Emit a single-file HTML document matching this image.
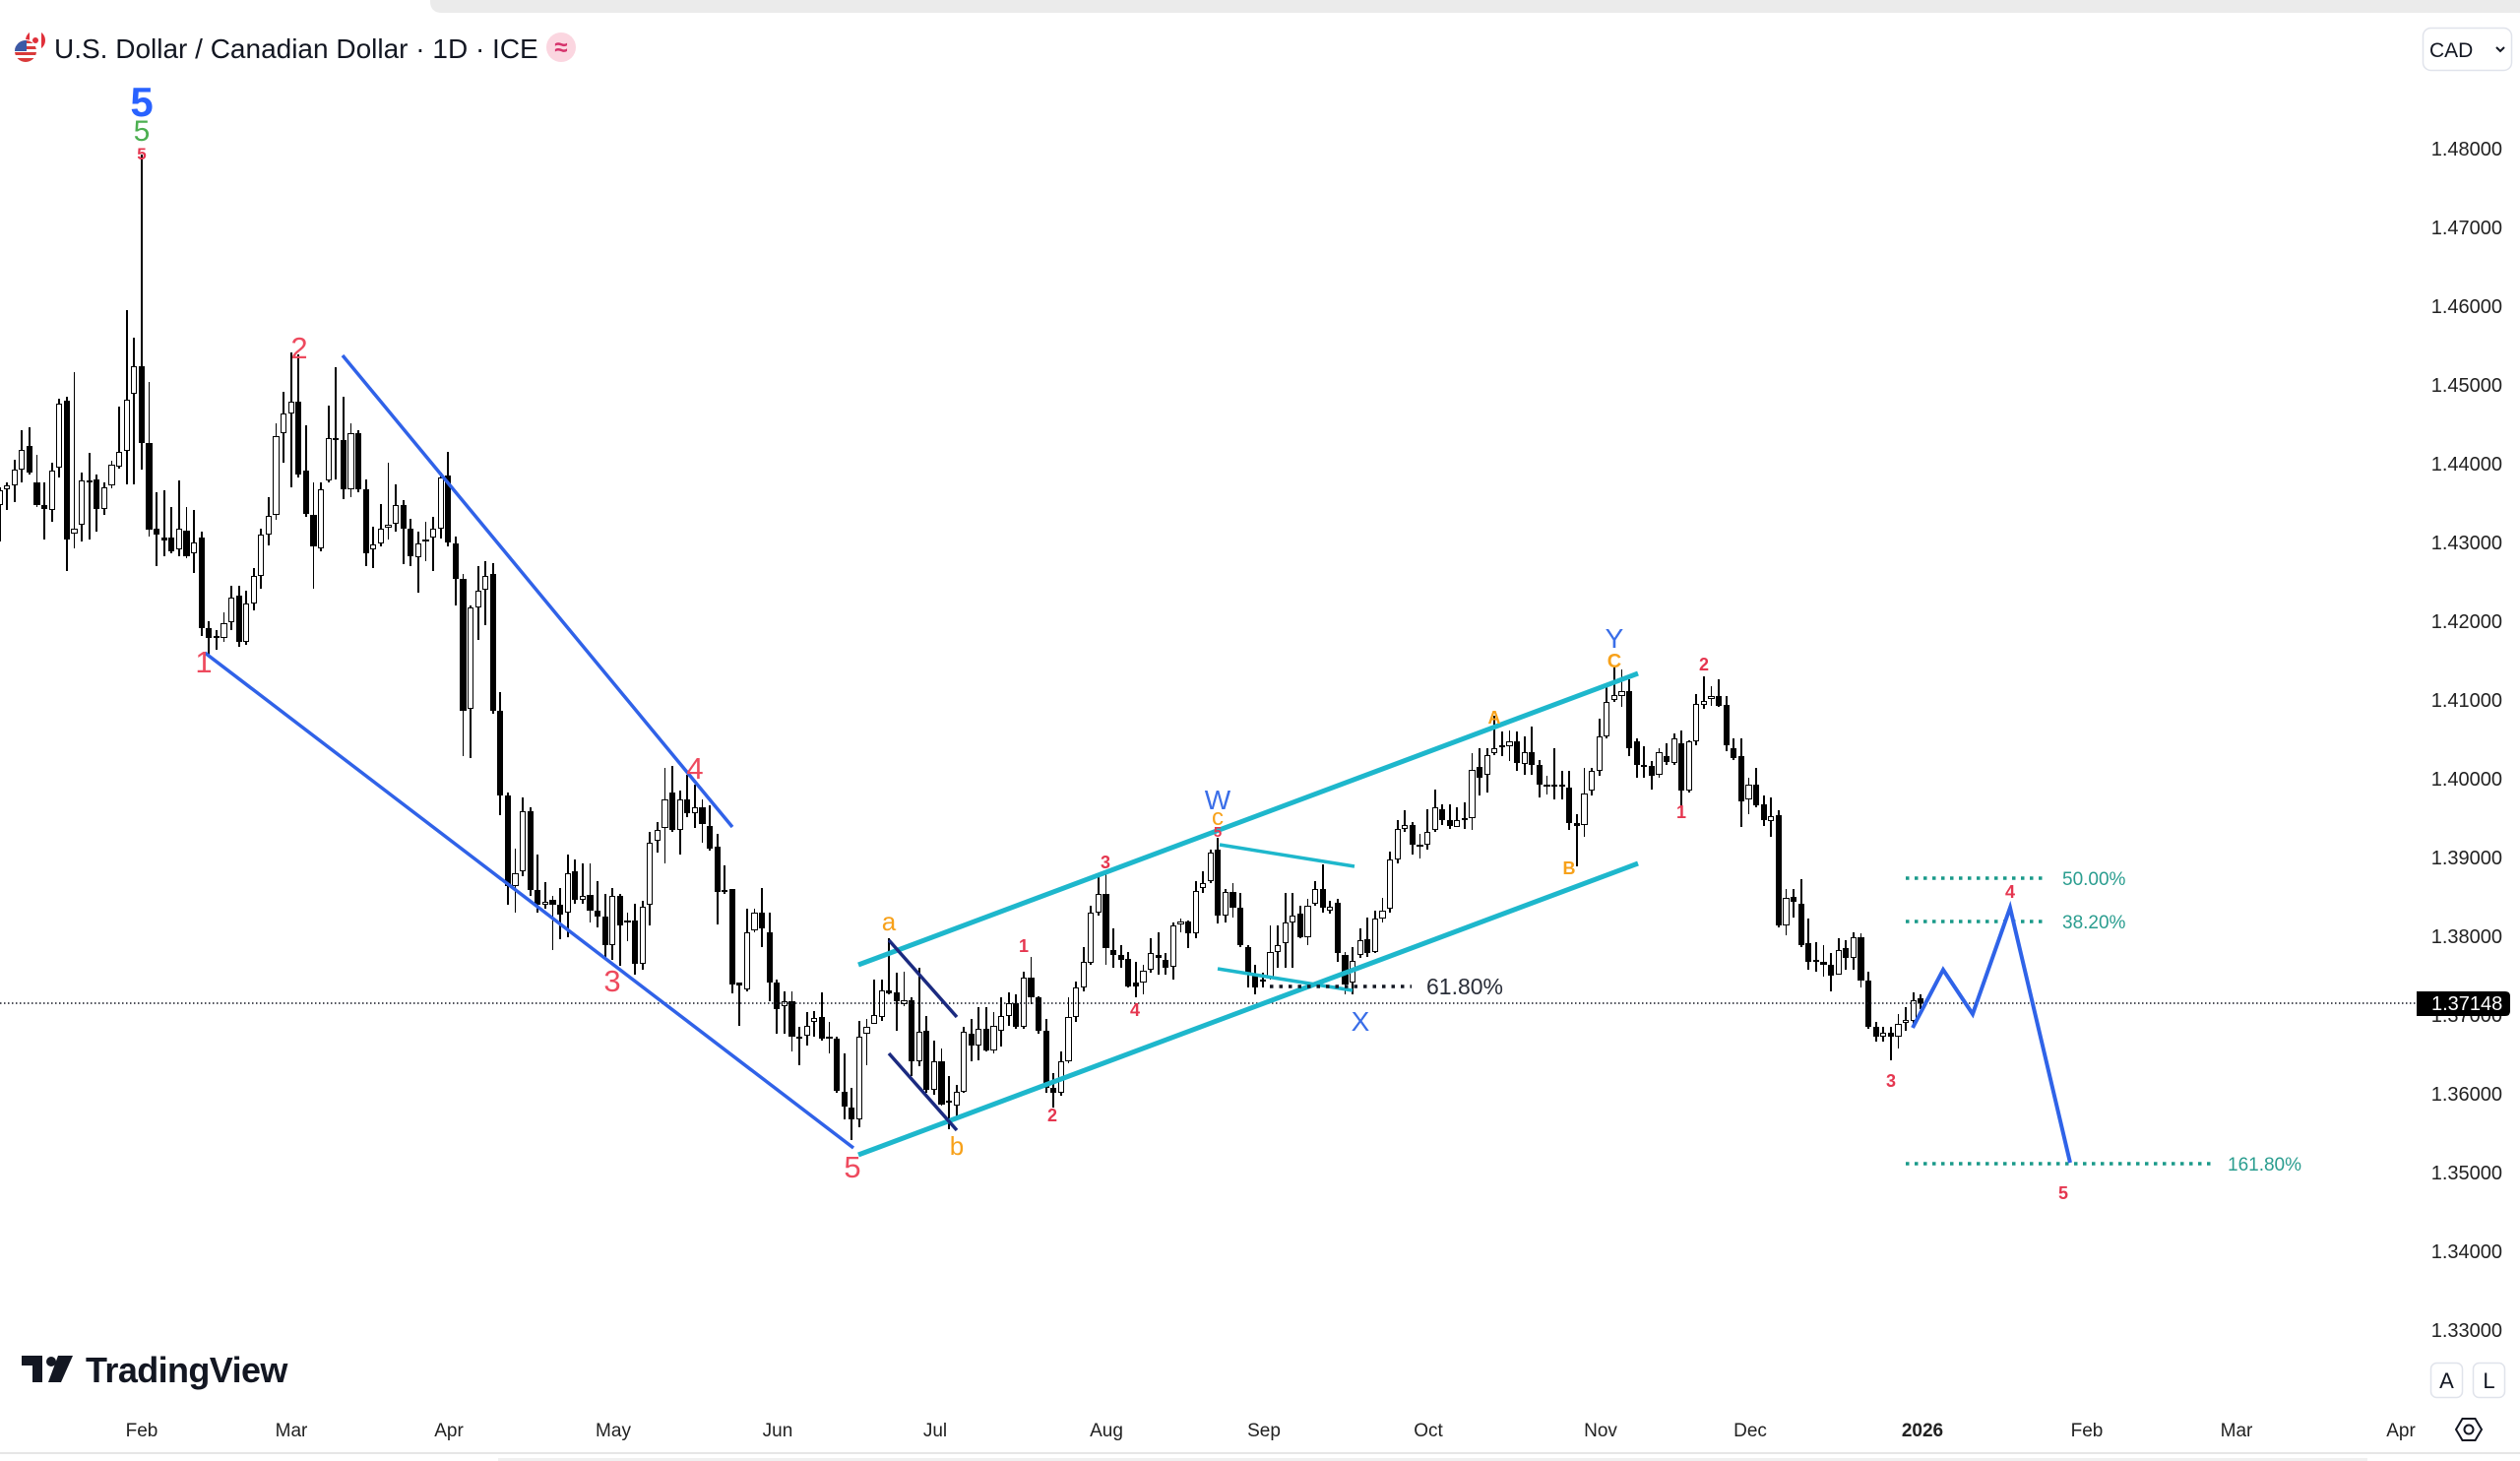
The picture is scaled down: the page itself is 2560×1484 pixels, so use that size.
<!DOCTYPE html>
<html><head><meta charset="utf-8">
<style>
html,body{margin:0;padding:0;background:#fff;}
body{width:2560px;height:1484px;position:relative;overflow:hidden;font-family:"Liberation Sans",sans-serif;}
#c{position:absolute;left:-4.2px;top:0;display:flex;height:1484px;z-index:1}
#c i{position:relative;flex:0 0 7.6px;width:7.6px;height:1484px;display:block}
#c i::before{content:"";position:absolute;left:2.9px;width:1.8px;top:calc(var(--h)*1px);height:calc((var(--l) - var(--h))*1px);background:#000}
#c i::after{content:"";position:absolute;left:0.7px;width:6.2px;box-sizing:border-box;top:calc(var(--t)*1px);height:calc((var(--u) - var(--t))*1px);min-height:2px;background:#000}
#c i.w::after{background:#fff;border:1.8px solid #000}
svg{position:absolute;left:0;top:0;z-index:2}
</style></head><body>
<div id="c">
<i class="w" style="--t:498;--u:513;--h:495;--l:550"></i>
<i class="w" style="--t:493;--u:497;--h:490;--l:518"></i>
<i class="w" style="--t:477;--u:493;--h:467;--l:510"></i>
<i class="w" style="--t:457;--u:477;--h:437;--l:490"></i>
<i class="b" style="--t:453;--u:480;--h:434;--l:482"></i>
<i class="b" style="--t:490;--u:513;--h:462;--l:515"></i>
<i class="b" style="--t:513;--u:517;--h:490;--l:548"></i>
<i class="w" style="--t:478;--u:518;--h:470;--l:530"></i>
<i class="w" style="--t:410;--u:475;--h:405;--l:485"></i>
<i class="b" style="--t:407;--u:548;--h:403;--l:580"></i>
<i class="w" style="--t:537;--u:542;--h:378;--l:557"></i>
<i class="w" style="--t:488;--u:533;--h:480;--l:550"></i>
<i class="b" style="--t:488;--u:490;--h:460;--l:548"></i>
<i class="b" style="--t:487;--u:517;--h:482;--l:540"></i>
<i class="w" style="--t:495;--u:517;--h:490;--l:523"></i>
<i class="w" style="--t:472;--u:493;--h:468;--l:496"></i>
<i class="w" style="--t:459;--u:474;--h:413;--l:476"></i>
<i class="w" style="--t:406;--u:458;--h:315;--l:492"></i>
<i class="w" style="--t:372;--u:400;--h:343;--l:492"></i>
<i class="b" style="--t:372;--u:450;--h:157;--l:477"></i>
<i class="b" style="--t:450;--u:538;--h:388;--l:545"></i>
<i class="b" style="--t:537;--u:543;--h:500;--l:575"></i>
<i class="b" style="--t:546;--u:549;--h:498;--l:565"></i>
<i class="b" style="--t:546;--u:560;--h:515;--l:562"></i>
<i class="w" style="--t:537;--u:558;--h:488;--l:565"></i>
<i class="b" style="--t:539;--u:565;--h:515;--l:567"></i>
<i class="w" style="--t:551;--u:562;--h:518;--l:582"></i>
<i class="b" style="--t:546;--u:638;--h:540;--l:646"></i>
<i class="b" style="--t:638;--u:648;--h:631;--l:667"></i>
<i class="b" style="--t:646;--u:648;--h:640;--l:660"></i>
<i class="w" style="--t:633;--u:648;--h:622;--l:652"></i>
<i class="w" style="--t:607;--u:632;--h:595;--l:640"></i>
<i class="b" style="--t:605;--u:652;--h:595;--l:657"></i>
<i class="w" style="--t:613;--u:652;--h:600;--l:655"></i>
<i class="w" style="--t:585;--u:613;--h:577;--l:620"></i>
<i class="w" style="--t:543;--u:585;--h:537;--l:598"></i>
<i class="w" style="--t:524;--u:543;--h:505;--l:554"></i>
<i class="w" style="--t:443;--u:523;--h:430;--l:528"></i>
<i class="w" style="--t:420;--u:440;--h:398;--l:470"></i>
<i class="w" style="--t:408;--u:420;--h:358;--l:495"></i>
<i class="b" style="--t:408;--u:482;--h:360;--l:485"></i>
<i class="b" style="--t:478;--u:522;--h:432;--l:525"></i>
<i class="b" style="--t:523;--u:555;--h:490;--l:598"></i>
<i class="w" style="--t:497;--u:557;--h:490;--l:560"></i>
<i class="w" style="--t:445;--u:488;--h:412;--l:490"></i>
<i class="b" style="--t:445;--u:447;--h:373;--l:487"></i>
<i class="b" style="--t:447;--u:497;--h:403;--l:507"></i>
<i class="w" style="--t:440;--u:497;--h:430;--l:505"></i>
<i class="b" style="--t:440;--u:497;--h:437;--l:500"></i>
<i class="b" style="--t:497;--u:562;--h:487;--l:575"></i>
<i class="w" style="--t:553;--u:558;--h:535;--l:577"></i>
<i class="w" style="--t:537;--u:552;--h:512;--l:555"></i>
<i class="w" style="--t:533;--u:536;--h:470;--l:548"></i>
<i class="w" style="--t:513;--u:532;--h:492;--l:540"></i>
<i class="b" style="--t:513;--u:537;--h:508;--l:573"></i>
<i class="b" style="--t:537;--u:565;--h:527;--l:575"></i>
<i class="w" style="--t:552;--u:566;--h:540;--l:602"></i>
<i class="b" style="--t:548;--u:550;--h:530;--l:570"></i>
<i class="w" style="--t:537;--u:546;--h:525;--l:580"></i>
<i class="w" style="--t:485;--u:537;--h:480;--l:547"></i>
<i class="b" style="--t:483;--u:551;--h:459;--l:555"></i>
<i class="b" style="--t:552;--u:588;--h:545;--l:615"></i>
<i class="b" style="--t:588;--u:722;--h:583;--l:768"></i>
<i class="w" style="--t:617;--u:720;--h:615;--l:770"></i>
<i class="w" style="--t:600;--u:617;--h:575;--l:650"></i>
<i class="w" style="--t:585;--u:599;--h:570;--l:635"></i>
<i class="b" style="--t:583;--u:722;--h:572;--l:725"></i>
<i class="b" style="--t:722;--u:808;--h:703;--l:828"></i>
<i class="b" style="--t:808;--u:900;--h:805;--l:919"></i>
<i class="w" style="--t:887;--u:900;--h:862;--l:927"></i>
<i class="w" style="--t:824;--u:885;--h:810;--l:890"></i>
<i class="b" style="--t:824;--u:904;--h:820;--l:910"></i>
<i class="b" style="--t:904;--u:919;--h:868;--l:927"></i>
<i class="w" style="--t:916;--u:919;--h:896;--l:923"></i>
<i class="b" style="--t:914;--u:919;--h:910;--l:965"></i>
<i class="b" style="--t:919;--u:929;--h:902;--l:954"></i>
<i class="w" style="--t:887;--u:927;--h:868;--l:952"></i>
<i class="b" style="--t:885;--u:914;--h:873;--l:918"></i>
<i class="w" style="--t:910;--u:914;--h:877;--l:918"></i>
<i class="b" style="--t:909;--u:925;--h:877;--l:937"></i>
<i class="b" style="--t:925;--u:931;--h:895;--l:942"></i>
<i class="b" style="--t:931;--u:960;--h:908;--l:973"></i>
<i class="w" style="--t:910;--u:960;--h:902;--l:975"></i>
<i class="b" style="--t:910;--u:940;--h:908;--l:981"></i>
<i class="b" style="--t:935;--u:937;--h:927;--l:956"></i>
<i class="b" style="--t:935;--u:979;--h:918;--l:990"></i>
<i class="w" style="--t:921;--u:979;--h:915;--l:985"></i>
<i class="w" style="--t:856;--u:919;--h:845;--l:940"></i>
<i class="w" style="--t:843;--u:854;--h:835;--l:866"></i>
<i class="w" style="--t:812;--u:841;--h:780;--l:877"></i>
<i class="b" style="--t:805;--u:843;--h:778;--l:845"></i>
<i class="w" style="--t:812;--u:843;--h:803;--l:868"></i>
<i class="b" style="--t:812;--u:826;--h:787;--l:830"></i>
<i class="w" style="--t:820;--u:826;--h:797;--l:841"></i>
<i class="b" style="--t:820;--u:837;--h:812;--l:856"></i>
<i class="b" style="--t:839;--u:862;--h:818;--l:864"></i>
<i class="b" style="--t:860;--u:906;--h:847;--l:939"></i>
<i class="b" style="--t:904;--u:906;--h:879;--l:908"></i>
<i class="b" style="--t:903;--u:1000;--h:903;--l:1009"></i>
<i class="b" style="--t:998;--u:1001;--h:998;--l:1042"></i>
<i class="w" style="--t:947;--u:1005;--h:923;--l:1007"></i>
<i class="w" style="--t:927;--u:945;--h:923;--l:947"></i>
<i class="b" style="--t:927;--u:943;--h:902;--l:962"></i>
<i class="b" style="--t:947;--u:998;--h:927;--l:1017"></i>
<i class="b" style="--t:998;--u:1025;--h:995;--l:1050"></i>
<i class="w" style="--t:1017;--u:1022;--h:1007;--l:1050"></i>
<i class="b" style="--t:1017;--u:1053;--h:1007;--l:1068"></i>
<i class="b" style="--t:1053;--u:1055;--h:1043;--l:1082"></i>
<i class="w" style="--t:1042;--u:1052;--h:1028;--l:1062"></i>
<i class="w" style="--t:1034;--u:1038;--h:1027;--l:1053"></i>
<i class="b" style="--t:1033;--u:1055;--h:1008;--l:1057"></i>
<i class="b" style="--t:1053;--u:1055;--h:1038;--l:1070"></i>
<i class="b" style="--t:1055;--u:1108;--h:1053;--l:1110"></i>
<i class="b" style="--t:1109;--u:1124;--h:1070;--l:1137"></i>
<i class="b" style="--t:1125;--u:1137;--h:1105;--l:1158"></i>
<i class="w" style="--t:1053;--u:1137;--h:1037;--l:1145"></i>
<i class="w" style="--t:1043;--u:1050;--h:1035;--l:1082"></i>
<i class="w" style="--t:1031;--u:1040;--h:995;--l:1040"></i>
<i class="w" style="--t:1006;--u:1033;--h:995;--l:1037"></i>
<i class="b" style="--t:1006;--u:1009;--h:953;--l:1010"></i>
<i class="b" style="--t:1008;--u:1017;--h:988;--l:1047"></i>
<i class="w" style="--t:1016;--u:1020;--h:987;--l:1022"></i>
<i class="b" style="--t:1016;--u:1078;--h:1013;--l:1093"></i>
<i class="w" style="--t:1048;--u:1078;--h:983;--l:1083"></i>
<i class="b" style="--t:1047;--u:1107;--h:1032;--l:1110"></i>
<i class="w" style="--t:1078;--u:1107;--h:1057;--l:1112"></i>
<i class="b" style="--t:1078;--u:1122;--h:1065;--l:1123"></i>
<i class="b" style="--t:1118;--u:1120;--h:1093;--l:1147"></i>
<i class="w" style="--t:1109;--u:1123;--h:1102;--l:1137"></i>
<i class="w" style="--t:1048;--u:1109;--h:1043;--l:1110"></i>
<i class="b" style="--t:1050;--u:1062;--h:1035;--l:1078"></i>
<i class="w" style="--t:1045;--u:1062;--h:1023;--l:1077"></i>
<i class="b" style="--t:1045;--u:1067;--h:1023;--l:1068"></i>
<i class="w" style="--t:1042;--u:1067;--h:1028;--l:1070"></i>
<i class="w" style="--t:1032;--u:1047;--h:1013;--l:1063"></i>
<i class="w" style="--t:1019;--u:1032;--h:1008;--l:1042"></i>
<i class="b" style="--t:1019;--u:1043;--h:1010;--l:1045"></i>
<i class="w" style="--t:993;--u:1043;--h:987;--l:1045"></i>
<i class="b" style="--t:993;--u:1013;--h:972;--l:1020"></i>
<i class="b" style="--t:1013;--u:1047;--h:1012;--l:1050"></i>
<i class="b" style="--t:1047;--u:1105;--h:1035;--l:1110"></i>
<i class="b" style="--t:1105;--u:1110;--h:1090;--l:1125"></i>
<i class="w" style="--t:1078;--u:1110;--h:1068;--l:1113"></i>
<i class="w" style="--t:1033;--u:1078;--h:1013;--l:1080"></i>
<i class="w" style="--t:1003;--u:1033;--h:997;--l:1038"></i>
<i class="w" style="--t:977;--u:1003;--h:962;--l:1007"></i>
<i class="w" style="--t:927;--u:978;--h:920;--l:980"></i>
<i class="w" style="--t:908;--u:927;--h:890;--l:930"></i>
<i class="b" style="--t:908;--u:963;--h:887;--l:980"></i>
<i class="b" style="--t:965;--u:970;--h:943;--l:983"></i>
<i class="b" style="--t:970;--u:975;--h:960;--l:983"></i>
<i class="b" style="--t:974;--u:1002;--h:967;--l:1003"></i>
<i class="b" style="--t:998;--u:1002;--h:977;--l:1013"></i>
<i class="w" style="--t:986;--u:998;--h:980;--l:1010"></i>
<i class="w" style="--t:968;--u:985;--h:953;--l:988"></i>
<i class="b" style="--t:970;--u:973;--h:947;--l:990"></i>
<i class="b" style="--t:975;--u:983;--h:968;--l:990"></i>
<i class="w" style="--t:940;--u:982;--h:937;--l:995"></i>
<i class="w" style="--t:936;--u:939;--h:933;--l:947"></i>
<i class="b" style="--t:936;--u:948;--h:935;--l:963"></i>
<i class="w" style="--t:905;--u:948;--h:895;--l:953"></i>
<i class="w" style="--t:897;--u:902;--h:885;--l:907"></i>
<i class="w" style="--t:866;--u:895;--h:863;--l:897"></i>
<i class="b" style="--t:863;--u:930;--h:851;--l:938"></i>
<i class="w" style="--t:906;--u:930;--h:903;--l:937"></i>
<i class="b" style="--t:906;--u:922;--h:897;--l:932"></i>
<i class="b" style="--t:922;--u:960;--h:907;--l:962"></i>
<i class="b" style="--t:962;--u:990;--h:960;--l:1003"></i>
<i class="b" style="--t:990;--u:1003;--h:980;--l:1010"></i>
<i class="b" style="--t:995;--u:997;--h:988;--l:1003"></i>
<i class="w" style="--t:967;--u:993;--h:940;--l:995"></i>
<i class="w" style="--t:960;--u:967;--h:940;--l:983"></i>
<i class="w" style="--t:937;--u:958;--h:907;--l:983"></i>
<i class="w" style="--t:930;--u:937;--h:907;--l:983"></i>
<i class="b" style="--t:928;--u:952;--h:920;--l:953"></i>
<i class="w" style="--t:920;--u:952;--h:913;--l:960"></i>
<i class="w" style="--t:903;--u:918;--h:895;--l:920"></i>
<i class="b" style="--t:903;--u:922;--h:878;--l:927"></i>
<i class="w" style="--t:921;--u:925;--h:915;--l:928"></i>
<i class="b" style="--t:917;--u:968;--h:913;--l:977"></i>
<i class="b" style="--t:970;--u:1000;--h:967;--l:1010"></i>
<i class="w" style="--t:976;--u:998;--h:962;--l:1010"></i>
<i class="w" style="--t:955;--u:970;--h:943;--l:973"></i>
<i class="b" style="--t:954;--u:968;--h:932;--l:972"></i>
<i class="w" style="--t:933;--u:967;--h:925;--l:968"></i>
<i class="w" style="--t:925;--u:933;--h:912;--l:937"></i>
<i class="w" style="--t:873;--u:923;--h:865;--l:927"></i>
<i class="w" style="--t:842;--u:873;--h:833;--l:877"></i>
<i class="w" style="--t:838;--u:842;--h:823;--l:845"></i>
<i class="b" style="--t:838;--u:858;--h:835;--l:868"></i>
<i class="b" style="--t:858;--u:860;--h:847;--l:872"></i>
<i class="w" style="--t:845;--u:858;--h:822;--l:863"></i>
<i class="w" style="--t:820;--u:843;--h:802;--l:845"></i>
<i class="b" style="--t:822;--u:833;--h:817;--l:838"></i>
<i class="b" style="--t:833;--u:839;--h:817;--l:842"></i>
<i class="w" style="--t:833;--u:840;--h:820;--l:840"></i>
<i class="b" style="--t:831;--u:833;--h:815;--l:842"></i>
<i class="w" style="--t:782;--u:831;--h:765;--l:843"></i>
<i class="b" style="--t:779;--u:790;--h:760;--l:808"></i>
<i class="w" style="--t:767;--u:787;--h:760;--l:805"></i>
<i class="w" style="--t:760;--u:765;--h:727;--l:767"></i>
<i class="b" style="--t:757;--u:759;--h:743;--l:768"></i>
<i class="w" style="--t:753;--u:758;--h:742;--l:773"></i>
<i class="b" style="--t:753;--u:775;--h:743;--l:783"></i>
<i class="w" style="--t:764;--u:776;--h:748;--l:787"></i>
<i class="b" style="--t:764;--u:777;--h:738;--l:787"></i>
<i class="b" style="--t:777;--u:797;--h:772;--l:810"></i>
<i class="b" style="--t:797;--u:799;--h:788;--l:807"></i>
<i class="w" style="--t:797;--u:799;--h:760;--l:812"></i>
<i class="b" style="--t:797;--u:799;--h:783;--l:812"></i>
<i class="b" style="--t:800;--u:836;--h:783;--l:843"></i>
<i class="b" style="--t:836;--u:839;--h:827;--l:880"></i>
<i class="w" style="--t:806;--u:838;--h:780;--l:850"></i>
<i class="w" style="--t:783;--u:803;--h:780;--l:808"></i>
<i class="w" style="--t:748;--u:783;--h:730;--l:788"></i>
<i class="w" style="--t:713;--u:748;--h:698;--l:750"></i>
<i class="w" style="--t:706;--u:711;--h:678;--l:713"></i>
<i class="w" style="--t:702;--u:707;--h:680;--l:718"></i>
<i class="b" style="--t:702;--u:760;--h:690;--l:768"></i>
<i class="b" style="--t:753;--u:777;--h:750;--l:790"></i>
<i class="b" style="--t:777;--u:779;--h:758;--l:790"></i>
<i class="b" style="--t:778;--u:788;--h:773;--l:802"></i>
<i class="w" style="--t:764;--u:787;--h:760;--l:790"></i>
<i class="b" style="--t:768;--u:774;--h:755;--l:777"></i>
<i class="w" style="--t:750;--u:775;--h:745;--l:777"></i>
<i class="b" style="--t:755;--u:803;--h:742;--l:820"></i>
<i class="w" style="--t:753;--u:803;--h:752;--l:805"></i>
<i class="w" style="--t:715;--u:753;--h:705;--l:757"></i>
<i class="w" style="--t:712;--u:716;--h:687;--l:720"></i>
<i class="w" style="--t:707;--u:710;--h:697;--l:717"></i>
<i class="b" style="--t:707;--u:717;--h:690;--l:718"></i>
<i class="b" style="--t:716;--u:757;--h:707;--l:763"></i>
<i class="b" style="--t:760;--u:770;--h:750;--l:772"></i>
<i class="b" style="--t:768;--u:814;--h:750;--l:840"></i>
<i class="w" style="--t:797;--u:812;--h:790;--l:827"></i>
<i class="b" style="--t:797;--u:818;--h:780;--l:820"></i>
<i class="b" style="--t:817;--u:833;--h:808;--l:839"></i>
<i class="w" style="--t:829;--u:834;--h:810;--l:850"></i>
<i class="b" style="--t:828;--u:940;--h:823;--l:942"></i>
<i class="w" style="--t:912;--u:940;--h:903;--l:950"></i>
<i class="b" style="--t:911;--u:916;--h:903;--l:932"></i>
<i class="b" style="--t:918;--u:960;--h:893;--l:962"></i>
<i class="b" style="--t:958;--u:977;--h:933;--l:985"></i>
<i class="b" style="--t:975;--u:977;--h:957;--l:987"></i>
<i class="b" style="--t:977;--u:980;--h:960;--l:992"></i>
<i class="b" style="--t:980;--u:991;--h:968;--l:1007"></i>
<i class="w" style="--t:965;--u:990;--h:953;--l:990"></i>
<i class="b" style="--t:963;--u:973;--h:955;--l:985"></i>
<i class="w" style="--t:952;--u:973;--h:947;--l:985"></i>
<i class="b" style="--t:952;--u:996;--h:948;--l:1003"></i>
<i class="b" style="--t:996;--u:1043;--h:987;--l:1045"></i>
<i class="b" style="--t:1043;--u:1053;--h:1038;--l:1058"></i>
<i class="w" style="--t:1049;--u:1053;--h:1043;--l:1058"></i>
<i class="b" style="--t:1049;--u:1053;--h:1043;--l:1077"></i>
<i class="w" style="--t:1040;--u:1053;--h:1030;--l:1065"></i>
<i class="w" style="--t:1036;--u:1039;--h:1023;--l:1047"></i>
<i class="w" style="--t:1016;--u:1037;--h:1008;--l:1040"></i>
<i class="b" style="--t:1014;--u:1019;--h:1010;--l:1025"></i>
</div>

<svg width="2560" height="1484" viewBox="0 0 2560 1484" xmlns="http://www.w3.org/2000/svg" font-family="Liberation Sans, sans-serif">
  <defs>
    <clipPath id="ca"><circle cx="36" cy="41" r="10"/></clipPath>
    <clipPath id="us"><circle cx="26" cy="52" r="11"/></clipPath>
  </defs>
  <!-- top bar -->
  <path d="M437 0 H2560 V13 H449 Q437 13 437 1 Z" fill="#ebebeb"/>
  <!-- flag icon -->
  <g clip-path="url(#ca)">
    <rect x="24" y="29" width="24" height="24" fill="#fff"/>
    <rect x="24" y="29" width="6" height="24" fill="#e0303a"/>
    <rect x="42" y="29" width="6" height="24" fill="#e0303a"/>
    <circle cx="36" cy="41" r="3" fill="#e0303a"/>
  </g>
  <circle cx="26" cy="52" r="12" fill="#fff"/>
  <g clip-path="url(#us)">
    <rect x="14" y="40" width="24" height="24" fill="#fff"/>
    <rect x="14" y="41" width="24" height="3" fill="#d93a3a"/>
    <rect x="14" y="47" width="24" height="3" fill="#d93a3a"/>
    <rect x="14" y="53" width="24" height="3" fill="#d93a3a"/>
    <rect x="14" y="59" width="24" height="4" fill="#d93a3a"/>
    <rect x="14" y="40" width="13" height="12" fill="#3c5aa6"/>
  </g>
  <!-- title -->
  <text x="55" y="59" font-size="28" fill="#131722">U.S. Dollar / Canadian Dollar · 1D · ICE</text>
  <circle cx="570" cy="48" r="15" fill="#fbd6e0"/>
  <text x="570" y="56" font-size="24" font-weight="bold" fill="#d6336c" text-anchor="middle">≈</text>
  <!-- CAD button -->
  <rect x="2461.5" y="28.5" width="90" height="43" rx="8" fill="#fff" stroke="#e0e3eb" stroke-width="1.5"/>
  <text x="2468" y="58" font-size="21" fill="#131722">CAD</text>
  <path d="M2536 48 L2540 52 L2544 48" fill="none" stroke="#131722" stroke-width="2"/>

  <!-- y axis labels -->
  <g font-size="20" fill="#222" text-anchor="end">
    <text x="2542" y="158">1.48000</text>
    <text x="2542" y="238">1.47000</text>
    <text x="2542" y="318">1.46000</text>
    <text x="2542" y="398">1.45000</text>
    <text x="2542" y="478">1.44000</text>
    <text x="2542" y="558">1.43000</text>
    <text x="2542" y="638">1.42000</text>
    <text x="2542" y="718">1.41000</text>
    <text x="2542" y="798">1.40000</text>
    <text x="2542" y="878">1.39000</text>
    <text x="2542" y="958">1.38000</text>
    <text x="2542" y="1038">1.37000</text>
    <text x="2542" y="1118">1.36000</text>
    <text x="2542" y="1198">1.35000</text>
    <text x="2542" y="1278">1.34000</text>
    <text x="2542" y="1358">1.33000</text>
  </g>

  <!-- current price line -->
  <line x1="0" y1="1019" x2="2455" y2="1019" stroke="#131722" stroke-width="1.5" stroke-dasharray="1.5 2.5"/>
  <path d="M2455 1007 H2545 Q2550 1007 2550 1012 V1027 Q2550 1032 2545 1032 H2455 Z" fill="#000"/>
  <text x="2470" y="1026" font-size="20" fill="#fff">1.37148</text>

  <!-- wedge lines -->
  <line x1="208" y1="663" x2="867" y2="1166" stroke="#3062e8" stroke-width="3.5"/>
  <line x1="348" y1="361" x2="744" y2="840" stroke="#3062e8" stroke-width="3.5"/>

  <!-- cyan channel -->
  <line x1="872" y1="980" x2="1664" y2="684" stroke="#1eb7cc" stroke-width="5"/>
  <line x1="872" y1="1173" x2="1664" y2="877" stroke="#1eb7cc" stroke-width="5"/>
  <line x1="1239" y1="858" x2="1376" y2="880" stroke="#1eb7cc" stroke-width="3.5"/>
  <line x1="1237" y1="984" x2="1374" y2="1006" stroke="#1eb7cc" stroke-width="3.5"/>

  <!-- navy lines -->
  <line x1="903" y1="955" x2="972" y2="1033" stroke="#1b2a80" stroke-width="3.5"/>
  <line x1="903" y1="1070" x2="972" y2="1148" stroke="#1b2a80" stroke-width="3.5"/>

  <!-- 61.8 dotted -->
  <line x1="1290" y1="1002" x2="1434" y2="1002" stroke="#131722" stroke-width="3.5" stroke-dasharray="3.5 6"/>
  <text x="1449" y="1010" font-size="23" fill="#2a2e39">61.80%</text>

  <!-- fib teal -->
  <g stroke="#1a9a8a" stroke-width="3.5" stroke-dasharray="3.5 5.5">
    <line x1="1936" y1="892" x2="2078" y2="892"/>
    <line x1="1936" y1="936" x2="2078" y2="936"/>
    <line x1="1936" y1="1182" x2="2247" y2="1182"/>
  </g>
  <g font-size="19" fill="#2a9d8f">
    <text x="2095" y="899">50.00%</text>
    <text x="2095" y="943">38.20%</text>
    <text x="2263" y="1189">161.80%</text>
  </g>

  <!-- projection -->
  <polyline points="1943,1044 1974,985 2004,1030 2042,922 2103,1181" fill="none" stroke="#2f63e8" stroke-width="4" stroke-linejoin="miter"/>

  <!-- top 5 labels -->
  <text x="144" y="118" font-size="42" font-weight="bold" fill="#2962ff" text-anchor="middle">5</text>
  <text x="144" y="143" font-size="30" fill="#4caf50" text-anchor="middle">5</text>
  <text x="144" y="162" font-size="17" font-weight="bold" fill="#e5364f" text-anchor="middle">5</text>

  <!-- big red wave labels -->
  <g font-size="31" fill="#ee4a5e" text-anchor="middle">
    <text x="304" y="364">2</text>
    <text x="207" y="683">1</text>
    <text x="622" y="1007">3</text>
    <text x="706" y="791">4</text>
    <text x="866" y="1196">5</text>
  </g>

  <!-- orange a b c -->
  <g font-size="26" fill="#f7a11a" text-anchor="middle">
    <text x="903" y="945">a</text>
    <text x="972" y="1173">b</text>
    <text x="1237" y="838" font-size="24">c</text>
  </g>

  <!-- blue W X Y -->
  <g font-size="28" fill="#3a6ee8" text-anchor="middle">
    <text x="1237" y="822">W</text>
    <text x="1382" y="1047">X</text>
    <text x="1640" y="658">Y</text>
  </g>

  <!-- orange A B C -->
  <g font-size="18" font-weight="bold" fill="#f7a11a" text-anchor="middle">
    <text x="1518" y="735">A</text>
    <text x="1594" y="888">B</text>
    <text x="1640" y="678" font-size="20">C</text>
  </g>

  <!-- small red labels -->
  <g font-size="18" font-weight="bold" fill="#e5364f" text-anchor="middle">
    <text x="1237" y="850" font-size="15">5</text>
    <text x="1123" y="882">3</text>
    <text x="1040" y="967">1</text>
    <text x="1069" y="1139">2</text>
    <text x="1153" y="1032">4</text>
    <text x="1731" y="681">2</text>
    <text x="1708" y="831">1</text>
    <text x="1921" y="1104">3</text>
    <text x="2042" y="912">4</text>
    <text x="2096" y="1218">5</text>
  </g>

  <!-- TradingView logo -->
  <path d="M22 1377 H43 V1404 H33 V1387 H22 Z" fill="#131722"/>
  <circle cx="52" cy="1383" r="5" fill="#131722"/>
  <path d="M59 1377 H74 L62 1404 H49 Z" fill="#131722"/>
  <text x="87" y="1404" font-size="36" font-weight="bold" fill="#131722" letter-spacing="-0.6">TradingView</text>

  <!-- A / L buttons -->
  <rect x="2469.5" y="1384.5" width="32" height="35" rx="6" fill="#fff" stroke="#e0e3eb" stroke-width="1.5"/>
  <rect x="2512.5" y="1384.5" width="32" height="35" rx="6" fill="#fff" stroke="#e0e3eb" stroke-width="1.5"/>
  <text x="2485.5" y="1410" font-size="22" fill="#131722" text-anchor="middle">A</text>
  <text x="2528.5" y="1410" font-size="22" fill="#131722" text-anchor="middle">L</text>

  <!-- x axis labels -->
  <g font-size="19" fill="#222" text-anchor="middle">
    <text x="144" y="1459">Feb</text>
    <text x="296" y="1459">Mar</text>
    <text x="456" y="1459">Apr</text>
    <text x="623" y="1459">May</text>
    <text x="790" y="1459">Jun</text>
    <text x="950" y="1459">Jul</text>
    <text x="1124" y="1459">Aug</text>
    <text x="1284" y="1459">Sep</text>
    <text x="1451" y="1459">Oct</text>
    <text x="1626" y="1459">Nov</text>
    <text x="1778" y="1459">Dec</text>
    <text x="1953" y="1459" font-weight="bold">2026</text>
    <text x="2120" y="1459">Feb</text>
    <text x="2272" y="1459">Mar</text>
    <text x="2439" y="1459">Apr</text>
  </g>
  <!-- settings icon -->
  <polygon points="2495,1452 2501.5,1441 2514.5,1441 2521,1452 2514.5,1463 2501.5,1463" fill="none" stroke="#131722" stroke-width="2"/>
  <circle cx="2508" cy="1452" r="4.5" fill="none" stroke="#131722" stroke-width="2"/>

  <!-- bottom separators -->
  <rect x="0" y="1475" width="2560" height="2" fill="#e6e6e6"/>
  <rect x="506" y="1481" width="1899" height="3" fill="#f0f0f0"/>
</svg>
</body></html>
